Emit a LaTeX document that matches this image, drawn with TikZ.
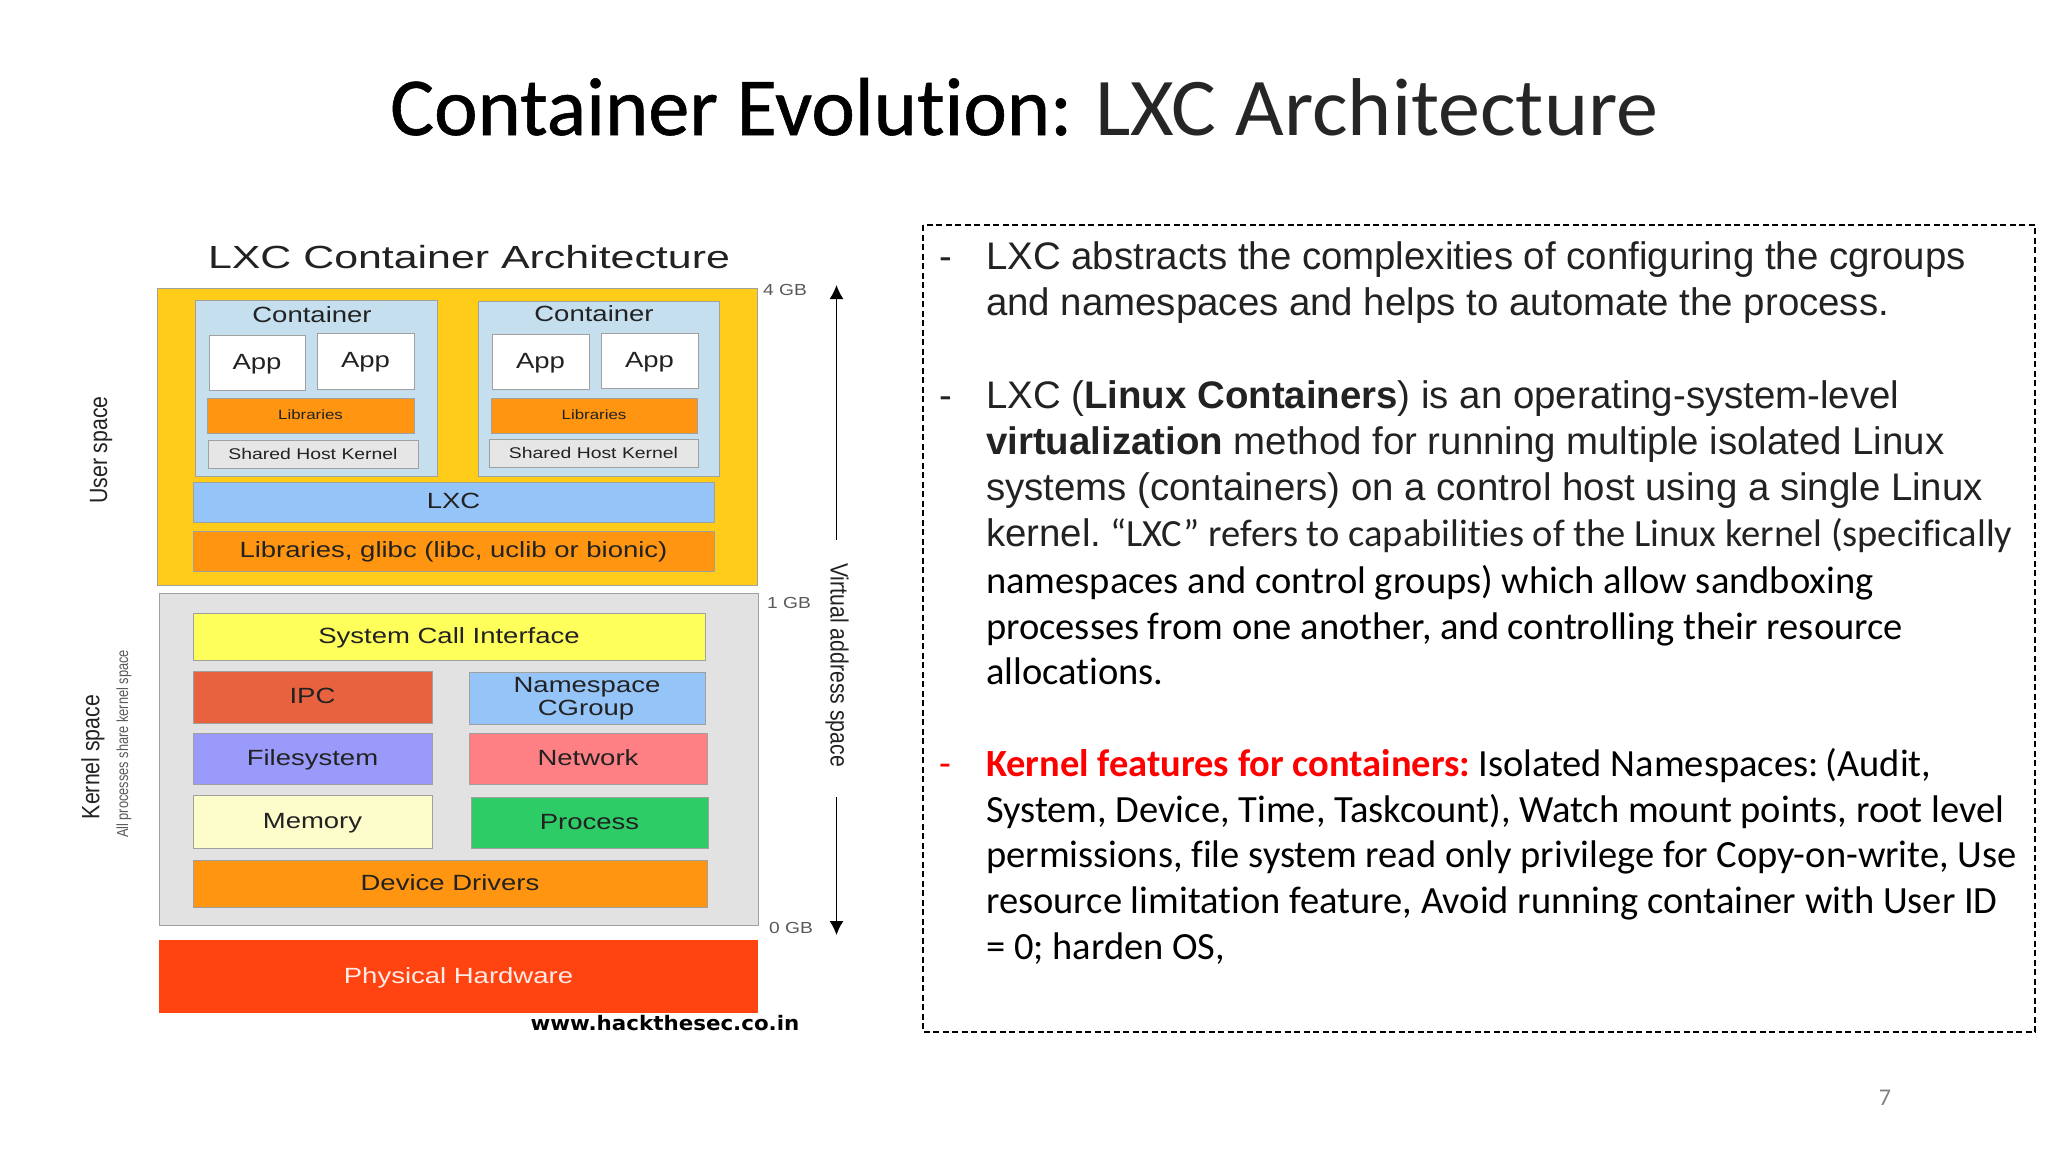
\documentclass[tikz,border=0pt]{standalone}
\usepackage{fontspec}
\setmainfont{Liberation Sans}
\newfontfamily\calibri[Ligatures=NoCommon]{Carlito}
\newfontfamily\calibrithick[Ligatures=NoCommon,FakeBold=0.7]{Carlito}
\newfontfamily\website{DejaVu Sans}
\usepackage{tikz}
\usetikzlibrary{arrows.meta}
\definecolor{userbg}{HTML}{FFCC1A}
\definecolor{contbg}{HTML}{C5DFEF}
\definecolor{libor}{HTML}{FF9510}
\definecolor{lxcblue}{HTML}{94C4F8}
\definecolor{hostgray}{HTML}{E6E6E6}
\definecolor{kerngray}{HTML}{E2E2E2}
\definecolor{sysyel}{HTML}{FFFF5C}
\definecolor{ipcred}{HTML}{E8623F}
\definecolor{fsviolet}{HTML}{9A9AFA}
\definecolor{netred}{HTML}{FF8084}
\definecolor{memyel}{HTML}{FDFDCB}
\definecolor{procgreen}{HTML}{2ECC66}
\definecolor{hwred}{HTML}{FF4411}
\definecolor{edgegray}{HTML}{A0A0A0}
\definecolor{textdark}{HTML}{222222}
\begin{document}
\begin{tikzpicture}[x=1pt,y=-1pt,
	box/.style={draw=edgegray, line width=1pt},
	lbl/.style={font=\fontsize{22}{22}\selectfont, text=textdark, xscale=1.25, transform shape, inner sep=0pt, text height=16.5pt, text depth=2.7pt},
	small/.style={lbl, font=\fontsize{13.5}{13.5}\selectfont, text height=10.3pt, text depth=1.5pt},
	host/.style={lbl, font=\fontsize{15.5}{15.5}\selectfont, text height=11.9pt, text depth=1.7pt},
	side/.style={font=\fontsize{25}{25}\selectfont, text=textdark, inner sep=0pt, xscale=.85, transform shape},
	gb/.style={font=\fontsize{16}{16}\selectfont, text=black!65, inner sep=0pt, xscale=1.2, transform shape},
	para/.style={anchor=base west, inner sep=0pt, font=\fontsize{38.4}{38.4}\selectfont, text=textdark},
	cal/.style={para, font=\calibri\fontsize{38.5}{38.5}\selectfont, text=black},
	vaarrow/.style={arrows=-{Latex[length=14pt,width=14pt]}, line width=1.4pt}]
	\useasboundingbox (0,0) rectangle (2048,1152);

	%Title
	\node[anchor=base west, inner sep=0pt, font=\calibrithick\fontsize{82.4}{82.4}\selectfont] (titlea) at (390,135) {Container Evolution:};
	\node[anchor=base west, inner sep=0pt, font=\calibri\fontsize{82}{82}\selectfont, text=black!85, xscale=1.025, transform shape] (titleb) at (1095,135) {LXC Architecture};

	%User space
	\node[font=\fontsize{32}{32}\selectfont, text=textdark, xscale=1.34, transform shape, inner sep=0pt] (archtitle) at (469,257) {LXC Container Architecture};
	\draw[box, fill=userbg] (157,288) rectangle (757,585);

	%Containers
	\draw[box, fill=contbg] (195,300) rectangle (437,476);
	\draw[box, fill=contbg] (478,301) rectangle (719,476);
	\node[lbl] (conta) at (312,316) {Container};
	\node[lbl] (contb) at (594,315) {Container};
	\draw[box, fill=white] (209,335) rectangle (305,390) node[midway, lbl] (appa) {App};
	\draw[box, fill=white] (317,333) rectangle (414,389) node[midway, lbl] (appb) {App};
	\draw[box, fill=white] (492,334) rectangle (589,389) node[midway, lbl] (appc) {App};
	\draw[box, fill=white] (601,333) rectangle (698,388) node[midway, lbl] (appd) {App};
	\draw[box, fill=libor] (207,398) rectangle (414,433) node[midway, small] (liba) {Libraries};
	\draw[box, fill=libor] (491,398) rectangle (697,433) node[midway, small] (libb) {Libraries};
	\draw[box, fill=hostgray] (208,440) rectangle (418,468) node[midway, host] (hosta) {Shared Host Kernel};
	\draw[box, fill=hostgray] (489,439) rectangle (698,467) node[midway, host] (hostb) {Shared Host Kernel};
	\draw[box, fill=lxcblue] (193,482) rectangle (714,522) node[midway, lbl] (lxc) {LXC};
	\draw[box, fill=libor] (193,531) rectangle (714,571) node[midway, lbl] (glibc) {Libraries, glibc (libc, uclib or bionic)};

	%Kernel space
	\draw[box, fill=kerngray] (159,593) rectangle (758,925);
	\draw[box, fill=sysyel] (193,613) rectangle (705,660) node[midway, lbl] (syscall) {System Call Interface};
	\draw[box, fill=ipcred] (193,671) rectangle (432,723) node[midway, lbl] (ipc) {IPC};
	\draw[box, fill=lxcblue] (469,672) rectangle (705,724);
	\node[lbl] (nsa) at (587,686) {Namespace};
	\node[lbl] (nsb) at (586,709) {CGroup};
	\draw[box, fill=fsviolet] (193,733) rectangle (432,784) node[midway, lbl] (fs) {Filesystem};
	\draw[box, fill=netred] (469,733) rectangle (707,784) node[midway, lbl] (net) {Network};
	\draw[box, fill=memyel] (193,795) rectangle (432,848) node[midway, lbl] (mem) {Memory};
	\draw[box, fill=procgreen] (471,797) rectangle (708,848) node[midway, lbl] (proc) {Process};
	\draw[box, fill=libor] (193,860) rectangle (707,907) node[midway, lbl] (dev) {Device Drivers};

	%Hardware
	\draw[draw=none, fill=hwred] (159,940) rectangle (758,1013) node[midway, lbl, text=white!90!hwred] (hw) {Physical Hardware};
	\node[font=\website\bfseries\fontsize{20}{20}\selectfont, inner sep=0pt, xscale=1.07, transform shape] (site) at (665,1023) {www.hackthesec.co.in};

	%Side labels
	\node[rotate=90, side] (user) at (101,450) {User space};
	\node[rotate=90, side] (kern) at (93,757) {Kernel space};
	\node[rotate=90, font=\fontsize{16}{16}\selectfont, text=black!65, inner sep=0pt, xscale=.8, transform shape] (share) at (124,744) {All processes share kernel space};
	\node[gb] (gbf) at (785,290) {4 GB};
	\node[gb] (gbo) at (789,603) {1 GB};
	\node[gb] (gbz) at (791,928) {0 GB};
	\node[rotate=270, side] (vas) at (837,665) {Virtual address space};
	\coordinate (uptop) at (836.5,285);
	\coordinate (upbot) at (836.5,540);
	\coordinate (lowtop) at (836.5,797);
	\coordinate (lowbot) at (836.5,935);
	\draw[vaarrow] (upbot) -- (uptop);
	\draw[vaarrow] (lowtop) -- (lowbot);

	%Text box
	\draw[dash pattern=on 6pt off 3.5pt, line width=1.2pt] (923,225) rectangle (2035,1032);
	\node[para] (da) at (939,269.5) {-};
	\node[para] (la) at (986,269.5) {LXC abstracts the complexities of configuring the cgroups};
	\node[para] (lb) at (986,315.5) {and namespaces and helps to automate the process.};
	\node[para] (db) at (939,408.5) {-};
	\node[para] (lc) at (986,408.5) {LXC (\textbf{Linux Containers}) is an operating-system-level};
	\node[para] (ld) at (986,454.5) {\textbf{virtualization} method for running multiple isolated Linux};
	\node[para] (le) at (986,500.5) {systems (containers) on a control host using a single Linux};
	\node[para] (lf) at (986,546.5) {kernel.\hspace{9pt}{\calibri\fontsize{38.5}{38.5}\selectfont “LXC” refers to capabilities of the Linux kernel (specifically}};
	\node[cal] (lg) at (986,593.5) {namespaces and control groups) which allow sandboxing};
	\node[cal] (lh) at (986,639.5) {processes from one another, and controlling their resource};
	\node[cal] (li) at (986,684.5) {allocations.};
	\node[cal, text=red] (dc) at (939,776.5) {-};
	\node[cal] (lj) at (986,776.5) {\textcolor{red}{\textbf{Kernel features for containers:}}\hspace{8pt}Isolated Namespaces:\hspace{7pt}(Audit,};
	\node[cal] (lk) at (986,822.5) {System, Device, Time, Taskcount), Watch mount points, root level};
	\node[cal] (ll) at (986,867.5) {permissions, file system read only privilege for Copy-on-write, Use};
	\node[cal] (lm) at (986,913.5) {resource limitation feature, Avoid running container with User ID};
	\node[cal] (ln) at (986,959.5) {= 0; harden OS,};

	%Page number
	\node[font=\calibri\fontsize{24}{24}\selectfont, text=black!50, inner sep=0pt] (page) at (1885,1098) {7};
\end{tikzpicture}
\end{document}
